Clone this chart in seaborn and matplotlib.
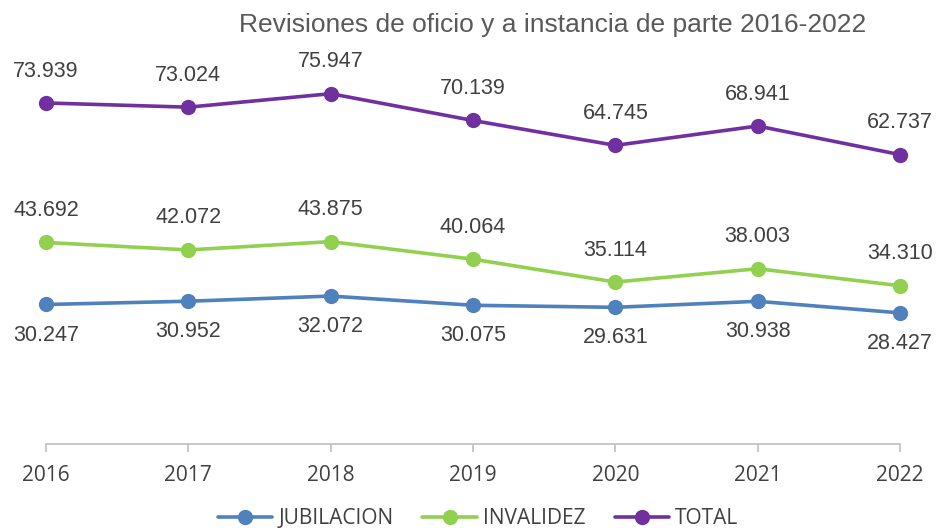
import matplotlib
matplotlib.use("Agg")
import matplotlib.pyplot as plt
import seaborn as sns
import pandas as pd
from matplotlib.lines import Line2D

years = [2016, 2017, 2018, 2019, 2020, 2021, 2022]
jubilacion = [30247, 30952, 32072, 30075, 29631, 30938, 28427]
invalidez = [43692, 42072, 43875, 40064, 35114, 38003, 34310]
total = [73939, 73024, 75947, 70139, 64745, 68941, 62737]
series_names = ["JUBILACION", "INVALIDEZ", "TOTAL"]
colors = ["#4F81BD", "#92D050", "#7030A0"]
title = "Revisiones de oficio y a instancia de parte 2016-2022"

sns.set_theme(style="white")
plt.rcParams["font.family"] = ["Liberation Sans", "DejaVu Sans"]

df = pd.DataFrame({
    "year": years * 3,
    "value": jubilacion + invalidez + total,
    "serie": [series_names[0]] * 7 + [series_names[1]] * 7 + [series_names[2]] * 7,
})

fig = plt.figure(figsize=(9.38, 5.30), dpi=100)
ax = fig.add_axes([46 / 938, 86 / 530, (900 - 46) / 938, (444 - 75) / 530])

sns.lineplot(data=df, x="year", y="value", hue="serie", palette=dict(zip(series_names, colors)),
             marker="o", markersize=11, markeredgewidth=0, linewidth=2.6, ax=ax, legend=False)
for ln in ax.lines:
    ln.set_clip_on(False)

ax.set_xlim(2016, 2022)
ax.set_ylim(0, 80000)
ax.set_yticks([])
ax.set_xticks(years)
ax.set_xticklabels([str(y) for y in years], fontfamily="Open Sans", fontsize=15, color="#404040")
ax.tick_params(axis="x", length=6, width=1.2, color="#BFBFBF", pad=9, bottom=True)
ax.set_xlabel("")
ax.set_ylabel("")
for s in ["top", "right", "left"]:
    ax.spines[s].set_visible(False)
ax.spines["bottom"].set_color("#BFBFBF")
ax.spines["bottom"].set_linewidth(1.2)

def fmt(v):
    return f"{v:,}".replace(",", ".")

for vals, off in [(jubilacion, -22), (invalidez, 23), (total, 23)]:
    for x, v in zip(years, vals):
        ax.annotate(fmt(v), (x, v), xytext=(0, off), textcoords="offset points",
                    ha="center", va="center", fontsize=15.5, color="#404040", annotation_clip=False)

fig.text(553 / 938, 1 - 25 / 530, title, ha="center", va="center", fontsize=19, color="#595959")

handles = [Line2D([0], [0], color=c, linewidth=2.6, marker="o", markersize=11, markeredgewidth=0)
           for c in colors]
leg = fig.legend(handles, series_names, loc="center", bbox_to_anchor=(478 / 938, 1 - 519 / 530), ncol=3,
                 frameon=False, prop={"family": "Open Sans", "size": 15}, handlelength=2.6,
                 columnspacing=1.4, handletextpad=0.3)
for t in leg.get_texts():
    t.set_color("#404040")

fig.savefig("out.png", dpi=100)
